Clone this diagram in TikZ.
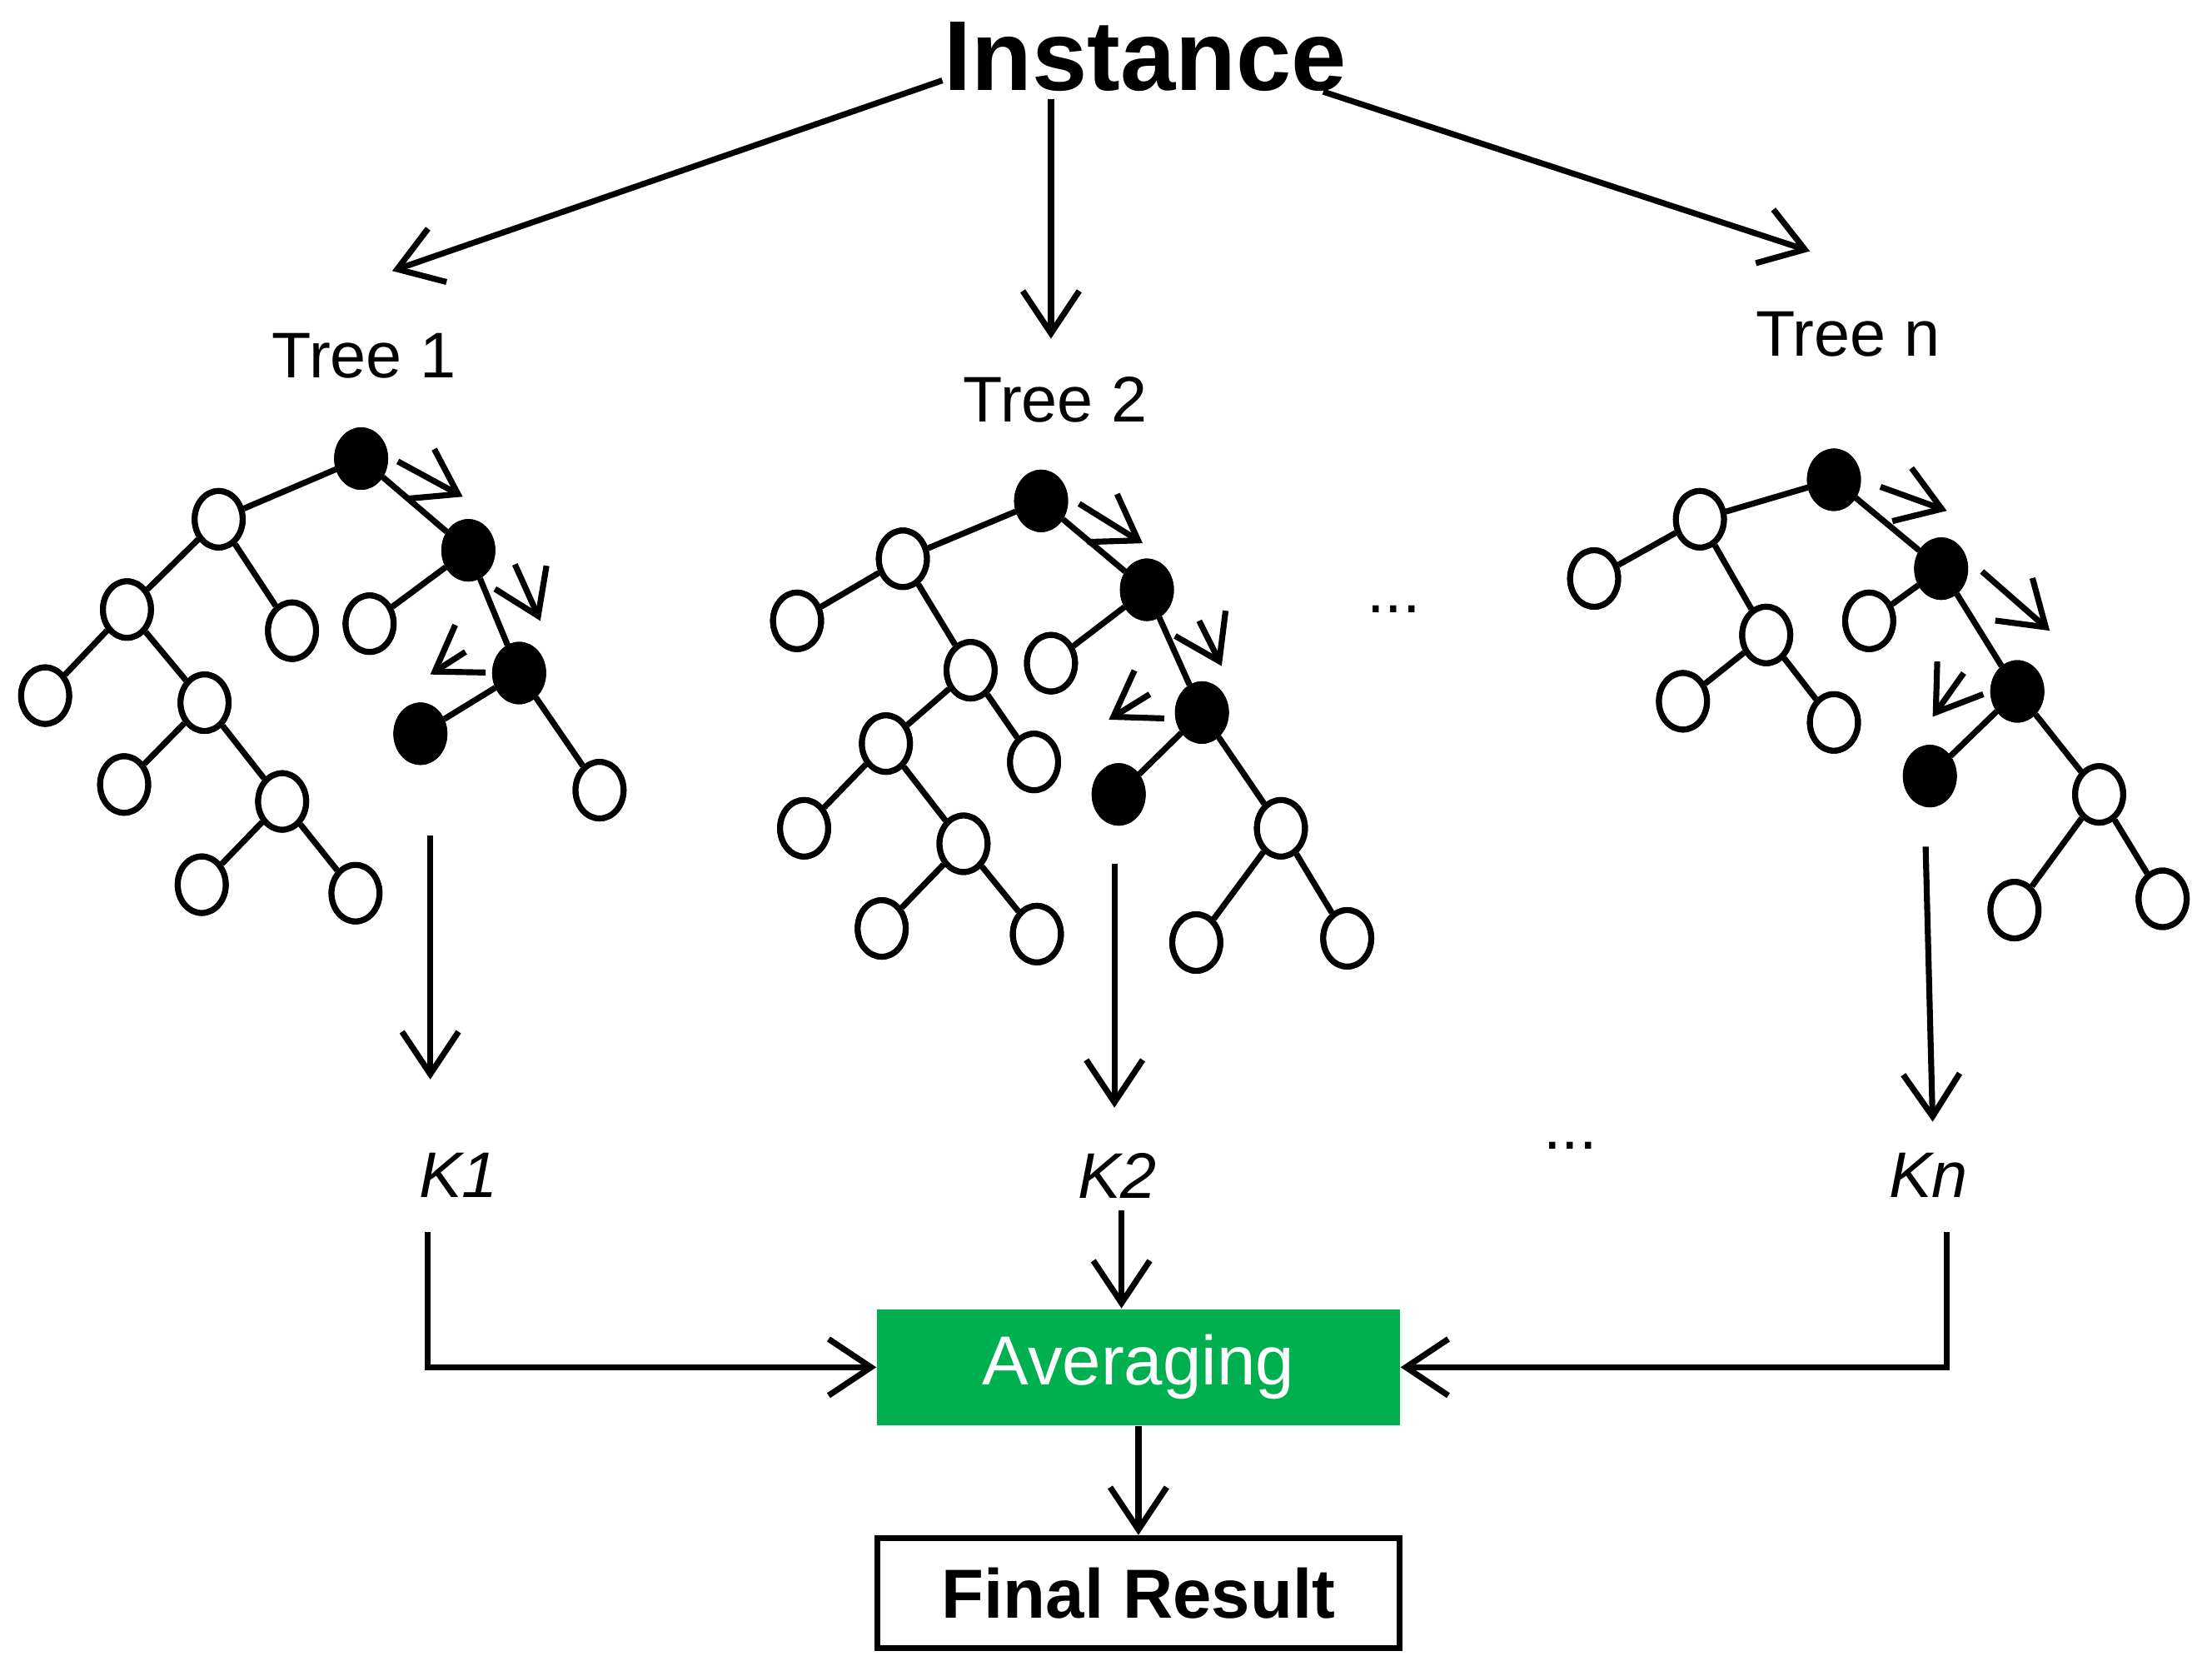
\documentclass[tikz,border=0pt]{standalone}
\usepackage{fontspec}
\setmainfont{Liberation Sans}
\usetikzlibrary{arrows.meta}
\tikzset{
	wn/.style={draw, line width=1.2pt, fill=white, ellipse, minimum width=0.34cm, minimum height=0.4cm, inner sep=0pt},
	bn/.style={wn, fill=black},
	edge/.style={line width=1.2pt},
	arr/.style={line width=1.2pt, -{Straight Barb[length=3mm,width=4mm]}},
	lbl/.style={font=\fontsize{13}{15}\selectfont}
}
\usetikzlibrary{shapes.geometric}
\begin{document}
\begin{tikzpicture}[x=0.01cm, y=-0.01cm]
	\useasboundingbox (0,0) rectangle (1568,1184);
	
	% tree 1
	\foreach \n/\x/\y in {a/256/325, b/332/390, c/368/477, d/298/520}
		\node[bn] (t1\n) at (\x,\y) {};
	\foreach \n/\x/\y in {e/155/368, f/90/432, g/207/447, h/262/442, i/32/493, j/145/498, k/88/556, l/200/568, m/143/627, o/252/633, p/425/560}
		\node[wn] (t1\n) at (\x,\y) {};
	\begin{scope}[on background layer/.style={}]
	\foreach \u/\v in {a/e, e/f, e/g, f/i, f/j, j/k, j/l, l/m, l/o, a/b, b/h, b/c, c/d, c/p}
		\draw[edge] (t1\u) -- (t1\v);
	\end{scope}
	\draw[arr] (282,327) -- (328,352);
	\draw[arr] (365,400) -- (383,440);
	\draw[arr] (330,462) -- (305,478);
	
	% tree 2
	\foreach \n/\x/\y in {a/738/355, b/813/418, c/852/505, d/793/563}
		\node[bn] (t2\n) at (\x,\y) {};
	\foreach \n/\x/\y in {e/640/396, f/565/440, g/688/475, h/745/470, i/628/527, j/733/540, k/570/587, l/683/598, m/625/658, o/735/662, p/908/587, q/848/668, r/955/665}
		\node[wn] (t2\n) at (\x,\y) {};
	\foreach \u/\v in {a/e, e/f, e/g, g/i, g/j, i/k, i/l, l/m, l/o, a/b, b/h, b/c, c/d, c/p, p/q, p/r}
		\draw[edge] (t2\u) -- (t2\v);
	\draw[arr] (765,357) -- (810,385);
	\draw[arr] (850,440) -- (866,472);
	\draw[arr] (815,492) -- (786,510);
	
	% tree n
	\foreach \n/\x/\y in {a/1300/340, b/1376/403, c/1430/490, d/1368/550}
		\node[bn] (t3\n) at (\x,\y) {};
	\foreach \n/\x/\y in {e/1205/368, f/1130/410, g/1252/450, h/1325/440, i/1193/497, j/1300/512, p/1488/563, q/1428/645, r/1533/637}
		\node[wn] (t3\n) at (\x,\y) {};
	\foreach \u/\v in {a/e, e/f, e/g, g/i, g/j, a/b, b/h, b/c, c/d, c/p, p/q, p/r}
		\draw[edge] (t3\u) -- (t3\v);
	\draw[arr] (1333,345) -- (1380,362);
	\draw[arr] (1405,405) -- (1453,447);
	\draw[arr] (1392,477) -- (1370,508);
	
	% redraw nodes over edges
	\foreach \n/\x/\y in {a/256/325, b/332/390, c/368/477, d/298/520, a2/738/355, b2/813/418, c2/852/505, d2/793/563, a3/1300/340, b3/1376/403, c3/1430/490, d3/1368/550}
		\node[bn] at (\x,\y) {};
	\foreach \x/\y in {155/368, 90/432, 207/447, 262/442, 32/493, 145/498, 88/556, 200/568, 143/627, 252/633, 425/560,
		640/396, 565/440, 688/475, 745/470, 628/527, 733/540, 570/587, 683/598, 625/658, 735/662, 908/587, 848/668, 955/665,
		1205/368, 1130/410, 1252/450, 1325/440, 1193/497, 1300/512, 1488/563, 1428/645, 1533/637}
		\node[wn] at (\x,\y) {};
	
	% labels
	\node[font=\fontsize{20}{24}\selectfont\bfseries] (inst) at (812,40) {Instance};
	\node[lbl] (tr1) at (258,252) {Tree 1};
	\node[lbl] (tr2) at (748,283) {Tree 2};
	\node[lbl] (trn) at (1310,237) {Tree n};
	\node[lbl] (dots1) at (988,432) {...};
	\node[lbl] (dots2) at (1113,812) {...};
	\node[lbl, font=\fontsize{13}{15}\selectfont\itshape] (k1) at (325,833) {K1};
	\node[lbl, font=\fontsize{13}{15}\selectfont\itshape] (k2) at (792,833) {K2};
	\node[lbl, font=\fontsize{13}{15}\selectfont\itshape] (kn) at (1367,833) {Kn};
	\node[fill={rgb,255:red,0;green,176;blue,80}, text=white, minimum width=3.7cm, minimum height=0.82cm, font=\fontsize{14}{16}\selectfont] (avg) at (807,969) {Averaging};
	\node[draw, line width=1.2pt, minimum width=3.7cm, minimum height=0.78cm, font=\fontsize{14}{16}\selectfont\bfseries] (fin) at (807,1129) {Final Result};
	
	% connectors
	\coordinate (i1) at (668,57); \coordinate (e1) at (278,192);
	\coordinate (i2) at (745,70); \coordinate (e2) at (745,240);
	\coordinate (i3) at (938,65); \coordinate (e3) at (1283,178);
	\draw[arr] (i1) -- (e1);
	\draw[arr] (i2) -- (e2);
	\draw[arr] (i3) -- (e3);
	\coordinate (s1) at (305,592); \coordinate (s2) at (790,612); \coordinate (s3) at (1365,600);
	\draw[arr] (s1) -- (305,765);
	\draw[arr] (s2) -- (790,785);
	\draw[arr] (s3) -- (1370,795);
	\draw[arr] (303,873) |- (avg.west);
	\draw[arr] (1380,873) |- (avg.east);
	\draw[arr] (795,858) -- (avg.north -| 795,0);
	\draw[arr] (avg.south) -- (fin.north);
\end{tikzpicture}
\end{document}
